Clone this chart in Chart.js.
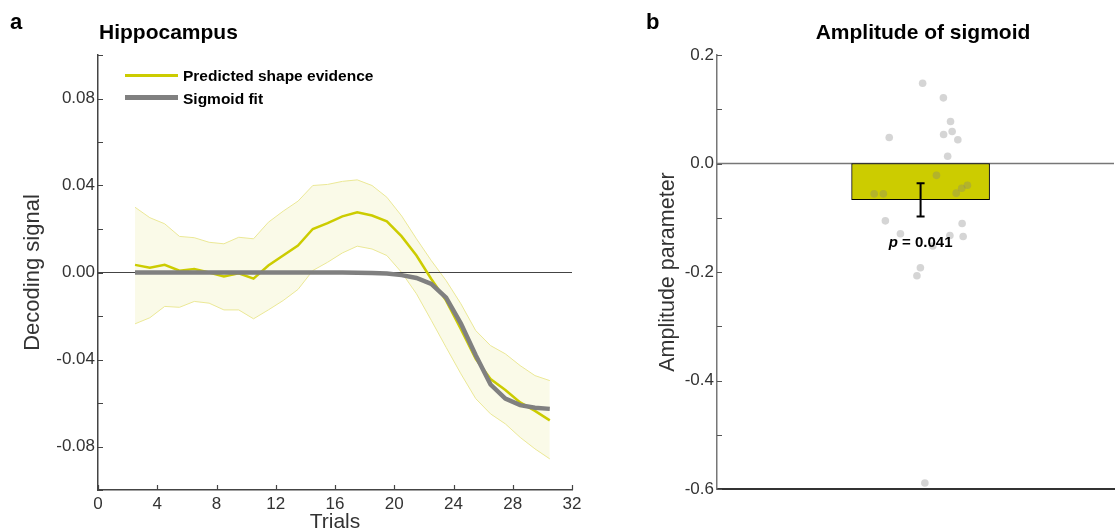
<!DOCTYPE html>
<html>
<head>
<meta charset="utf-8">
<script src="https://cdn.jsdelivr.net/npm/chart.js@4.4.1/dist/chart.umd.min.js"></script>
<style>
  body { margin: 0; background: #fff; font-family: "Liberation Sans", Arial, sans-serif; }
  #wrap { position: relative; width: 1118px; height: 530px; overflow: hidden; }
  canvas { position: absolute; top: 0; }
  .txt { position: absolute; font-weight: bold; color: #000; white-space: nowrap; }
  .leg { position: absolute; font-weight: bold; font-size: 15.5px; line-height: 16px; color: #000; white-space: nowrap; }
  .swatch { position: absolute; left: 125px; width: 53px; }
</style>
</head>
<body>
<div id="wrap">
  <canvas id="left" width="610" height="530" style="left:0"></canvas>
  <canvas id="right" width="508" height="530" style="left:610px"></canvas>

  <div class="txt" style="left:10px;top:11px;font-size:22px;line-height:22px">a</div>
  <div class="txt" style="left:646px;top:11px;font-size:22px;line-height:22px">b</div>
  <div class="txt" style="left:99px;top:21px;font-size:21px;line-height:21px">Hippocampus</div>
  <div class="txt" style="left:723px;width:400px;text-align:center;top:21px;font-size:21px;line-height:21px">Amplitude of sigmoid</div>

  <div class="swatch" style="top:73.5px;height:3px;background:#cccc00"></div>
  <div class="leg" style="left:183px;top:68px">Predicted shape evidence</div>
  <div class="swatch" style="top:95px;height:4.5px;background:#808080"></div>
  <div class="leg" style="left:183px;top:91px">Sigmoid fit</div>
</div>

<script>
// panel a: decoding signal across trials
const trials = [2.5, 3.5, 4.5, 5.5, 6.5, 7.5, 8.5, 9.5, 10.5, 11.5, 12.5, 13.5, 14.5, 15.5, 16.5,
                17.5, 18.5, 19.5, 20.5, 21.5, 22.5, 23.5, 24.5, 25.5, 26.5, 27.5, 28.5, 29.5, 30.5];
const evidence = [0.0035, 0.0022, 0.0035, 0.0008, 0.0016, 0.0000, -0.0018, -0.0004, -0.0028, 0.0032,
                  0.0078, 0.0124, 0.0200, 0.0227, 0.0258, 0.0277, 0.0262, 0.0235, 0.0166, 0.0078,
                  -0.0030, -0.0129, -0.0260, -0.0397, -0.0490, -0.0540, -0.0597, -0.0636, -0.0680];
const upper = [0.0300, 0.0252, 0.0224, 0.0166, 0.0160, 0.0139, 0.0132, 0.0162, 0.0155, 0.0231,
               0.0282, 0.0328, 0.0400, 0.0405, 0.0419, 0.0426, 0.0400, 0.0346, 0.0260, 0.0155,
               0.0055, -0.0037, -0.0144, -0.0267, -0.0336, -0.0374, -0.0428, -0.0474, -0.0497];
const lower = [-0.0236, -0.0208, -0.0156, -0.0160, -0.0133, -0.0141, -0.0172, -0.0172, -0.0213, -0.0172,
               -0.0129, -0.0078, 0.0009, 0.0047, 0.0090, 0.0121, 0.0108, 0.0078, 0.0000, -0.0098,
               -0.0220, -0.0344, -0.0466, -0.0580, -0.0650, -0.0696, -0.0758, -0.0811, -0.0857];
const sigmoid = [0, 0, 0, 0, 0, 0, 0, 0, 0, 0, 0, 0, 0, 0, 0,
                 -0.0001, -0.0002, -0.0005, -0.0012, -0.0025, -0.0052, -0.0116, -0.0235, -0.0380,
                 -0.0515, -0.0580, -0.0610, -0.0622, -0.0627];

// panel b: fitted amplitude per subject
const subjX = [0.01, 0.112, 0.147, 0.155, 0.113, 0.183, -0.154, 0.133, 0.078, -0.228, -0.183, 0.175,
               0.202, 0.23, -0.173, 0.204, -0.099, 0.144, 0.209, 0.06, -0.001, -0.018, 0.021];
const subjY = [0.148, 0.121, 0.0774, 0.059, 0.0535, 0.0437, 0.048, 0.0135, -0.0218, -0.0559, -0.0559, -0.0547,
               -0.0455, -0.04, -0.1057, -0.1106, -0.1296, -0.1327, -0.1346, -0.152, -0.1923, -0.207, -0.589];
const barX = [0];
const barMean = [-0.0669];
const barSem = [0.0306];
const pValue = '0.041';

Chart.defaults.font.family = '"Liberation Sans", Arial, sans-serif';
Chart.defaults.color = '#333';

const yellow = '#cccc00';
const toXY = (xs, ys) => xs.map((x, i) => ({ x: x, y: ys[i] }));

// ticks drawn inward from the axis line
const innerTicks = {
  id: 'innerTicks',
  afterDraw(chart, args, opts) {
    const ctx = chart.ctx;
    ctx.save();
    ctx.strokeStyle = opts.color || '#444';
    ctx.lineWidth = 1.2;
    (opts.axes || []).forEach(id => {
      const scale = chart.scales[id];
      ctx.beginPath();
      scale.ticks.forEach(t => {
        const p = Math.round(scale.getPixelForValue(t.value)) + 0.5;
        if (scale.isHorizontal()) {
          ctx.moveTo(p, scale.top);
          ctx.lineTo(p, scale.top - 5);
        } else {
          ctx.moveTo(scale.right, p);
          ctx.lineTo(scale.right + 5, p);
        }
      });
      ctx.stroke();
    });
    ctx.restore();
  }
};

new Chart(document.getElementById('left'), {
  type: 'line',
  data: {
    datasets: [
      { data: toXY(trials, sigmoid), borderColor: '#808080', borderWidth: 4.5, pointRadius: 0 },
      { data: toXY(trials, evidence), borderColor: yellow, borderWidth: 2.5, pointRadius: 0 },
      { data: [{ x: 0, y: 0 }, { x: 32, y: 0 }], borderColor: '#444', borderWidth: 1.2, pointRadius: 0 },
      { data: toXY(trials, upper), borderColor: '#ebe896', borderWidth: 1, pointRadius: 0 },
      { data: toXY(trials, lower), borderColor: '#ebe896', borderWidth: 1, pointRadius: 0,
        fill: '-1', backgroundColor: '#fafae8' }
    ]
  },
  options: {
    responsive: false,
    animation: false,
    layout: { padding: { top: 55, right: 38, bottom: 0, left: 0 } },
    plugins: {
      legend: { display: false },
      tooltip: { enabled: false },
      innerTicks: { axes: ['x', 'y'], color: '#444' }
    },
    scales: {
      x: {
        type: 'linear', min: 0, max: 32,
        grid: { display: false, drawTicks: false },
        border: { display: true, color: '#444', width: 1.5 },
        ticks: { stepSize: 4, padding: 4, maxRotation: 0, autoSkip: false, font: { size: 17 } },
        title: { display: true, text: 'Trials', font: { size: 21, lineHeight: 0.75 }, padding: 0 },
        afterFit: s => { s.height = 40; }
      },
      y: {
        min: -0.1, max: 0.1,
        grid: { display: false, drawTicks: false },
        border: { display: true, color: '#444', width: 1.5 },
        ticks: {
          stepSize: 0.02, padding: 3, autoSkip: false, font: { size: 17 },
          callback: v => (Math.round(v * 100) % 4 === 0 && Math.abs(v) < 0.099)
            ? (Math.round(v * 100) / 100).toFixed(2) : ''
        },
        title: { display: true, text: 'Decoding signal', font: { size: 22 }, padding: { top: 20, bottom: 0 } },
        afterFit: s => { s.width = 98; }
      }
    }
  },
  plugins: [innerTicks]
});

const errorBar = {
  id: 'errorBar',
  afterDatasetsDraw(chart) {
    const { ctx, scales: { x, y } } = chart;
    const cx = x.getPixelForValue(barX[0]);
    const top = y.getPixelForValue(barMean[0] + barSem[0]);
    const bot = y.getPixelForValue(barMean[0] - barSem[0]);
    ctx.save();
    ctx.strokeStyle = '#000';
    ctx.lineWidth = 2;
    ctx.beginPath();
    ctx.moveTo(cx, top); ctx.lineTo(cx, bot);
    ctx.moveTo(cx - 4, top); ctx.lineTo(cx + 4, top);
    ctx.moveTo(cx - 4, bot); ctx.lineTo(cx + 4, bot);
    ctx.stroke();

    const fam = '"Liberation Sans", Arial, sans-serif';
    const rest = ' = ' + pValue;
    ctx.font = 'italic bold 15px ' + fam;
    const wp = ctx.measureText('p').width;
    ctx.font = 'bold 15px ' + fam;
    const wr = ctx.measureText(rest).width;
    const x0 = cx - (wp + wr) / 2;
    const ty = bot + 31;
    ctx.fillStyle = '#000';
    ctx.textAlign = 'left';
    ctx.textBaseline = 'alphabetic';
    ctx.font = 'italic bold 15px ' + fam;
    ctx.fillText('p', x0, ty);
    ctx.font = 'bold 15px ' + fam;
    ctx.fillText(rest, x0 + wp, ty);
    ctx.restore();
  }
};

new Chart(document.getElementById('right'), {
  type: 'bar',
  data: {
    datasets: [
      { type: 'scatter', data: toXY(subjX, subjY), backgroundColor: 'rgba(128,128,128,0.33)',
        borderWidth: 0, pointRadius: 3.8 },
      { type: 'bar', data: toXY(barX, barMean), backgroundColor: yellow, borderColor: '#000',
        borderWidth: 1, borderSkipped: false, barThickness: 138 },
      { type: 'line', data: [{ x: -1, y: 0 }, { x: 0.95, y: 0 }], borderColor: '#777',
        borderWidth: 1.5, pointRadius: 0 }
    ]
  },
  options: {
    responsive: false,
    animation: false,
    layout: { padding: { top: 55, right: 0, bottom: 0, left: 0 } },
    plugins: {
      legend: { display: false },
      tooltip: { enabled: false },
      innerTicks: { axes: ['y'], color: '#555' }
    },
    scales: {
      x: {
        type: 'linear', min: -1, max: 0.95, offset: false,
        grid: { display: false, drawTicks: false },
        border: { display: true, color: '#333', width: 2 },
        ticks: { display: false },
        afterFit: s => { s.height = 41; }
      },
      y: {
        min: -0.6, max: 0.2,
        grid: { display: false, drawTicks: false },
        border: { display: true, color: '#777', width: 1.5 },
        ticks: {
          stepSize: 0.1, padding: 3, autoSkip: false, font: { size: 17 },
          callback: v => Math.round(v * 10) % 2 === 0 ? (Math.round(v * 10) / 10).toFixed(1) : ''
        },
        title: { display: true, text: 'Amplitude parameter', font: { size: 21.5 }, padding: { top: 45, bottom: 0 } },
        afterFit: s => { s.width = 107; }
      }
    }
  },
  plugins: [innerTicks, errorBar]
});
</script>
</body>
</html>
